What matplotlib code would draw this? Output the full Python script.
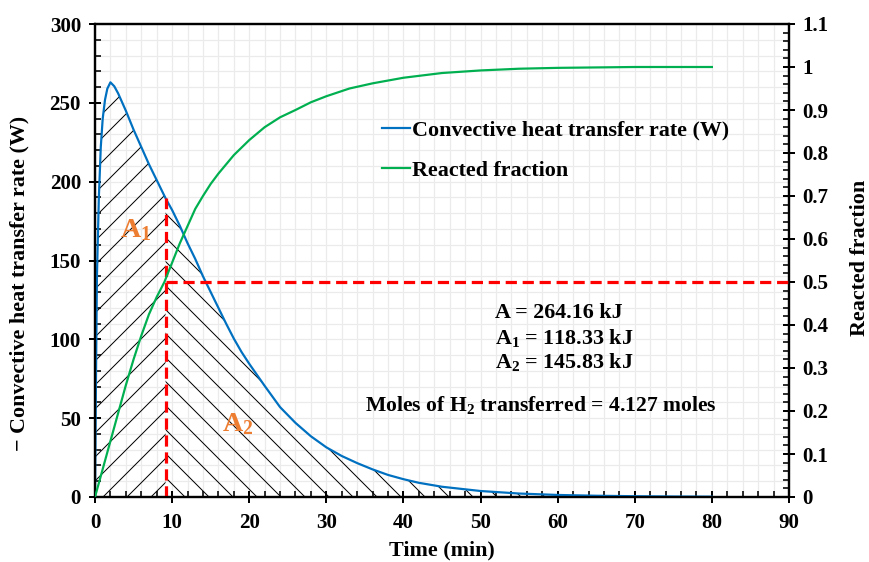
import matplotlib
matplotlib.use('Agg')
import matplotlib.pyplot as plt
from matplotlib.ticker import MultipleLocator, FuncFormatter
import numpy as np

plt.rcParams['font.family'] = 'Liberation Serif'
plt.rcParams['font.weight'] = 'bold'
plt.rcParams['axes.labelweight'] = 'bold'
plt.rcParams['mathtext.fontset'] = 'custom'
plt.rcParams['mathtext.rm'] = 'Liberation Serif:bold'
plt.rcParams['mathtext.it'] = 'Liberation Serif:bold'
plt.rcParams['mathtext.bf'] = 'Liberation Serif:bold'
plt.rcParams['hatch.linewidth'] = 0.5

# time (min) and convective heat transfer rate (W)
time_q = [0, 0.1, 0.25, 0.5, 0.75, 1.0, 1.3, 1.6, 2.0, 2.5, 3, 4, 5, 6, 7, 8, 9, 9.15,
          10, 11, 12, 13, 14, 15, 16, 17, 18, 19, 20, 22, 24, 26, 28, 30, 32, 34,
          36, 38, 40, 42, 45, 50, 55, 60, 65, 70, 75, 80]
heat_rate = [0, 60, 140, 190, 222, 240, 252, 259, 263, 260.5, 256, 245, 233, 222, 211,
             201, 191, 189.5, 182, 172, 161, 151, 140, 130, 120, 110, 100.5, 92, 84.5,
             70.5, 57, 47, 38.5, 31.5, 26, 21.5, 17.5, 14, 11.3, 9, 6.5, 3.8, 2.2, 1.3,
             0.8, 0.5, 0.3, 0.2]

# time (min) and reacted fraction
time_f = [0, 1, 2, 3, 4, 5, 6, 7, 8, 9, 10, 11, 12, 13, 14, 15, 16, 18, 20, 22, 24,
          26, 28, 30, 33, 36, 40, 45, 50, 55, 60, 70, 80]
reacted = [0, 0.065, 0.13, 0.195, 0.26, 0.32, 0.375, 0.425, 0.465, 0.5, 0.545, 0.59,
           0.63, 0.67, 0.70, 0.728, 0.752, 0.795, 0.83, 0.86, 0.883, 0.90, 0.918, 0.932,
           0.95, 0.962, 0.975, 0.986, 0.992, 0.996, 0.998, 1.0, 1.0]

t_half = 9.15     # time at reacted fraction = 0.5
q_half = 189.5
energy_text = ['A = 264.16 kJ', r'A$_1$ = 118.33 kJ', r'A$_2$ = 145.83 kJ']
moles_text = r'Moles of H$_2$ transferred = 4.127 moles'

blue = '#0070C0'
green = '#00B050'
red = '#FF0000'
orange = '#ED7D31'

t = np.array(time_q)
q = np.array(heat_rate)

fig = plt.figure(figsize=(869/144, 562/144), dpi=144)
ax = fig.add_axes([95/869, 1-497/562, 694/869, 473/562])
ax2 = ax.twinx()

ax.set_xlim(0, 90)
ax.set_ylim(0, 300)
ax2.set_ylim(0, 1.1)
ax.xaxis.set_major_locator(MultipleLocator(10))
ax.xaxis.set_minor_locator(MultipleLocator(2))
ax.yaxis.set_major_locator(MultipleLocator(50))
ax.yaxis.set_minor_locator(MultipleLocator(10))
ax2.yaxis.set_major_locator(MultipleLocator(0.1))
ax2.yaxis.set_minor_locator(MultipleLocator(0.02))
ax2.yaxis.set_major_formatter(FuncFormatter(lambda v, p: f'{v:.1f}'.rstrip('0').rstrip('.')))

ax.grid(True, which='both', color='#EBEBEB', lw=0.6, zorder=0)
ax.set_axisbelow(True)

for a in (ax, ax2):
    a.tick_params(which='major', direction='inout', length=6, width=1, labelsize=10.5)
    a.tick_params(which='minor', direction='in', length=3, width=0.8)
    for s in a.spines.values():
        s.set_linewidth(1.1)
ax.tick_params(axis='x', pad=5)
ax.tick_params(axis='y', pad=4)

# hatched areas under the curve
left = t <= t_half
right = t >= t_half
ax.fill_between(t[left], q[left], 0, facecolor='none', edgecolor='black',
                hatch='//', linewidth=0, zorder=1)
ax.fill_between(t[right], q[right], 0, facecolor='none', edgecolor='black',
                hatch='\\\\', linewidth=0, zorder=1)

l1, = ax.plot(time_q, heat_rate, color=blue, lw=1.1, zorder=3,
              label='Convective heat transfer rate (W)')
l2, = ax2.plot(time_f, reacted, color=green, lw=1.1, zorder=3, label='Reacted fraction')

ax.vlines(t_half, 0, q_half, colors=red, lw=1.6, linestyles=(0, (3.5, 1.8)), zorder=4)
ax2.hlines(0.5, t_half, 90, colors=red, lw=1.6, linestyles=(0, (3.5, 1.8)), zorder=4)

ax.text(3.2, 169, r'A$_1$', color=orange, fontsize=14, va='center', ha='left')
ax.text(16.5, 46, r'A$_2$', color=orange, fontsize=14, va='center', ha='left')

for txt, yv in zip(energy_text, [116.7, 100.8, 85.6]):
    ax.text(51.9, yv, txt, fontsize=11, va='center', ha='left', zorder=5)
ax.text(35.0, 58.3, moles_text, fontsize=10.8, va='center', ha='left', zorder=5)

ax2.legend(handles=[l1, l2], loc='upper left', bbox_to_anchor=(0.413, 0.797),
           frameon=False, fontsize=11, handlelength=1.3, handletextpad=0.1,
           labelspacing=0.9, borderpad=0, borderaxespad=0)

ax.set_xlabel('Time (min)', fontsize=11)
ax.xaxis.set_label_coords(0.5, -0.092)
ax.set_ylabel('\u2212 Convective heat transfer rate (W)', fontsize=11)
ax.yaxis.set_label_coords(-0.095, 0.452)
ax2.set_ylabel('Reacted fraction', fontsize=11)
ax2.yaxis.set_label_coords(1.088, 0.505)

fig.savefig('out.png', dpi=144)
